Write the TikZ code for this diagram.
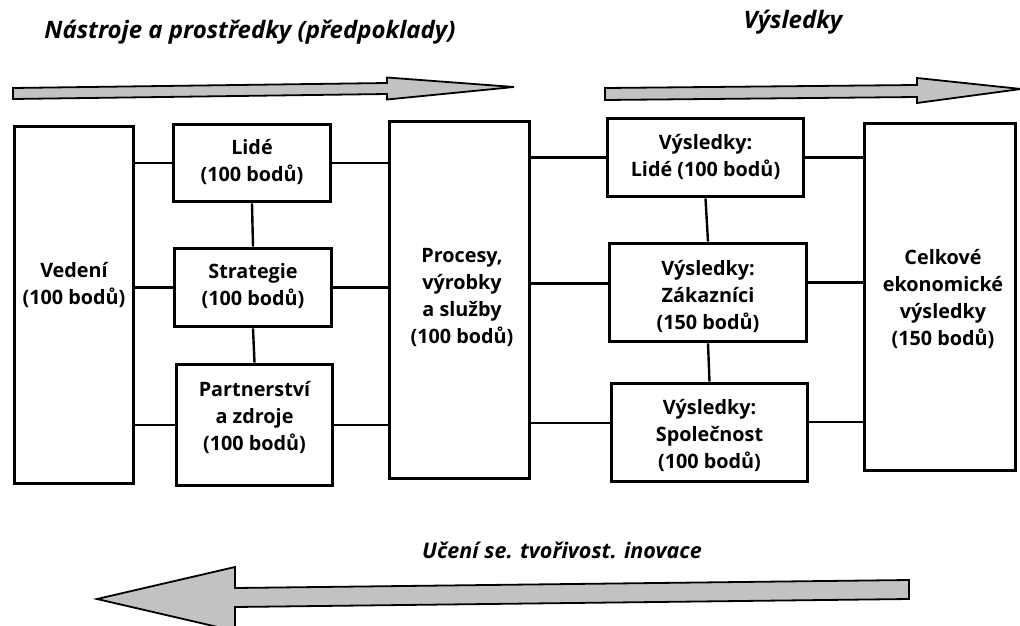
\documentclass[tikz,border=0pt]{standalone}
\usepackage{fontspec}
\setmainfont{Open Sans}
\usetikzlibrary{calc}
\begin{document}
\begin{tikzpicture}[x=1pt,y=-1pt,
  box/.style={draw=black,line width=3.8pt,rectangle,inner sep=0pt,fill=white},
  txt/.style={align=center,font=\fontsize{19.8}{27}\selectfont\bfseries,inner sep=0pt},
  ttl/.style={font=\fontsize{24}{28}\selectfont\bfseries\itshape,inner sep=0pt},
  ttlb/.style={font=\fontsize{21.5}{26}\selectfont\bfseries\itshape,inner sep=0pt},
  conn/.style={draw=black,line width=2.4pt},
  bigarrow/.style={fill=black!24,draw=black,line width=1.8pt,line join=miter}]
\useasboundingbox (0,0) rectangle (1020,626);
\clip (0,0) rectangle (1020,626);
% titles
\node[ttl] (t1) at (250,32) {Nástroje a prostředky (předpoklady)};
\node[ttl] (t2) at (793,22) {Výsledky};
\node[ttlb] (t3) at (562,550) {Učení se. tvořivost. inovace};
% big arrows
\draw[bigarrow] (13,88) -- (387,83) -- (387,77.5) -- (514,87) -- (387,99.5) -- (387,94) -- (13,99) -- cycle;
\draw[bigarrow] (605,88) -- (917,85) -- (917,78) -- (1021,89) -- (917,103) -- (917,97) -- (605,100) -- cycle;
\draw[bigarrow] (97,599) -- (235,567) -- (235,588) -- (909,580) -- (909,599) -- (235,607) -- (235,631) -- cycle;
% boxes
\node[box,minimum width=119pt,minimum height=357pt] (veden) at (74,305) {};
\node[box,minimum width=157pt,minimum height=77pt] (lide) at (252,163) {};
\node[box,minimum width=157pt,minimum height=78pt] (strat) at (253,287.5) {};
\node[box,minimum width=156pt,minimum height=121pt] (partner) at (254.5,425) {};
\node[box,minimum width=140pt,minimum height=357pt] (proc) at (459.5,300) {};
\node[box,minimum width=196pt,minimum height=78pt] (vl) at (705.5,157.5) {};
\node[box,minimum width=197pt,minimum height=98pt] (vz) at (708,292.5) {};
\node[box,minimum width=196pt,minimum height=98pt] (vs) at (709.5,432.5) {};
\node[box,minimum width=151pt,minimum height=347pt] (celk) at (940,297) {};
% texts
\node[txt] (tveden) at (74,285) {Vedení\\(100 bodů)};
\node[txt] (tlide) at (252,161.5) {Lidé\\(100 bodů)};
\node[txt] (tstrat) at (253,286.5) {Strategie\\(100 bodů)};
\node[txt] (tpartner) at (254.5,417) {Partnerství\\a zdroje\\(100 bodů)};
\node[txt] (tproc) at (462,297.5) {Procesy,\\výrobky\\a služby\\(100 bodů)};
\node[txt] (tvl) at (705.5,156.5) {Výsledky:\\Lidé (100 bodů)};
\node[txt] (tvz) at (708,296) {Výsledky:\\Zákazníci\\(150 bodů)};
\node[txt] (tvs) at (709.5,435) {Výsledky:\\Společnost\\(100 bodů)};
\node[txt] (tcelk) at (943,299) {Celkové\\ekonomické\\výsledky\\(150 bodů)};
% helper coordinates for offset connectors
\coordinate (vzw) at ([yshift=9pt]vz.west);
\coordinate (vze) at ([yshift=10pt]vz.east);
\coordinate (vsw) at ([yshift=9.5pt]vs.west);
\coordinate (vse) at ([yshift=10.5pt]vs.east);
% connectors
\draw[conn] (veden.east |- lide.west) -- (lide.west);
\draw[conn] (veden.east |- strat.west) -- (strat.west);
\draw[conn] (veden.east |- partner.west) -- (partner.west);
\draw[conn] (lide.east) -- (lide.east -| proc.west);
\draw[conn] (strat.east) -- (strat.east -| proc.west);
\draw[conn] (partner.east) -- (partner.east -| proc.west);
\draw[conn] (vl.west -| proc.east) -- (vl.west);
\draw[conn] (vzw -| proc.east) -- (vzw);
\draw[conn] (vsw -| proc.east) -- (vsw);
\draw[conn] (vl.east) -- (vl.east -| celk.west);
\draw[conn] (vze) -- (vze -| celk.west);
\draw[conn] (vse) -- (vse -| celk.west);
\draw[conn] (lide.south) -- (strat.north);
\draw[conn] (strat.south) -- (partner.north);
\draw[conn] (vl.south) -- (vz.north);
\draw[conn] (vz.south) -- (vs.north);
\end{tikzpicture}
\end{document}
